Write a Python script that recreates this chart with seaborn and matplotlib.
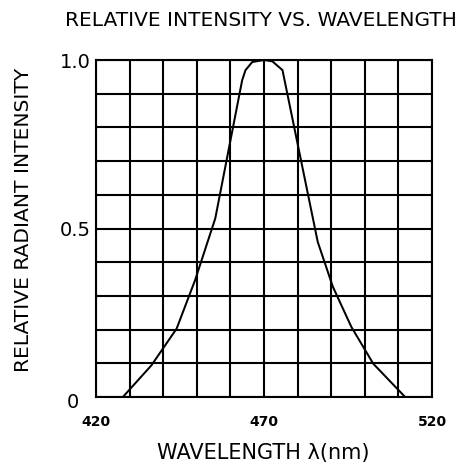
import matplotlib
matplotlib.use("Agg")
import matplotlib.pyplot as plt
import matplotlib.transforms as mtransforms
import seaborn as sns
import pandas as pd

wavelength = [428, 436.5, 444, 449.5, 455.5, 463.5, 464.5, 466.5, 470, 472.5, 475.5, 486, 490.5, 496, 502.5, 512]
intensity = [0, 0.094, 0.203, 0.347, 0.53, 0.94, 0.97, 0.994, 1.0, 0.996, 0.97, 0.46, 0.327, 0.208, 0.099, 0]
x_ticks = [420, 470, 520]
x_tick_labels = ["420", "470", "520"]
y_ticks = [0, 0.5, 1.0]
y_tick_labels = ["0", "0.5", "1.0"]
title = "RELATIVE INTENSITY VS. WAVELENGTH"
x_label = "WAVELENGTH λ(nm)"
y_label = "RELATIVE RADIANT INTENSITY"

sns.set_theme(style="white")
plt.rcParams["font.family"] = ["DejaVu Sans"]

df = pd.DataFrame({"wl": wavelength, "ri": intensity})

fig = plt.figure(figsize=(4.74, 4.75), dpi=100)
ax = fig.add_axes([96 / 474, 78 / 475, 336 / 474, 337 / 475])

sns.lineplot(data=df, x="wl", y="ri", ax=ax, color="black", linewidth=1.45,
             estimator=None, sort=False, clip_on=False, zorder=3)

ax.set_xlim(420, 520)
ax.set_ylim(0, 1.0)

# grid lines every 10 nm and 0.1
xt = [420 + 10 * i for i in range(11)]
ax.set_xticks(xt)
ax.set_xticklabels([x_tick_labels[x_ticks.index(v)] if v in x_ticks else "" for v in xt],
                   fontweight="bold")
yt = [round(0.1 * i, 1) for i in range(11)]
ax.set_yticks(yt)
ax.set_yticklabels([y_tick_labels[y_ticks.index(v)] if v in y_ticks else "" for v in yt])
ax.grid(True, color="black", linewidth=1.5)
ax.set_axisbelow(True)
for s in ax.spines.values():
    s.set_color("black")
    s.set_linewidth(1.5)
ax.tick_params(axis="both", length=0, colors="black")
ax.tick_params(axis="x", pad=13, labelsize=10)
ax.tick_params(axis="y", pad=4, labelsize=14)
ax.set_xlabel("")
ax.set_ylabel("")

# the "0" label sits a little lower and further left in the reference
zero_lab = ax.get_yticklabels()[0]
zero_lab.set_transform(zero_lab.get_transform() +
                       mtransforms.ScaledTranslation(-11 / 100, -3 / 100, fig.dpi_scale_trans))

fig.text(261 / 474, 1 - 20 / 475, title, ha="center", va="center", fontsize=14.5, color="black")
fig.text(263 / 474, 1 - 453 / 475, x_label, ha="center", va="center", fontsize=15, color="black")
fig.text(24 / 474, 1 - 220 / 475, y_label, ha="center", va="center", rotation=90, fontsize=14.6, color="black")

fig.savefig("out.png", dpi=100)
